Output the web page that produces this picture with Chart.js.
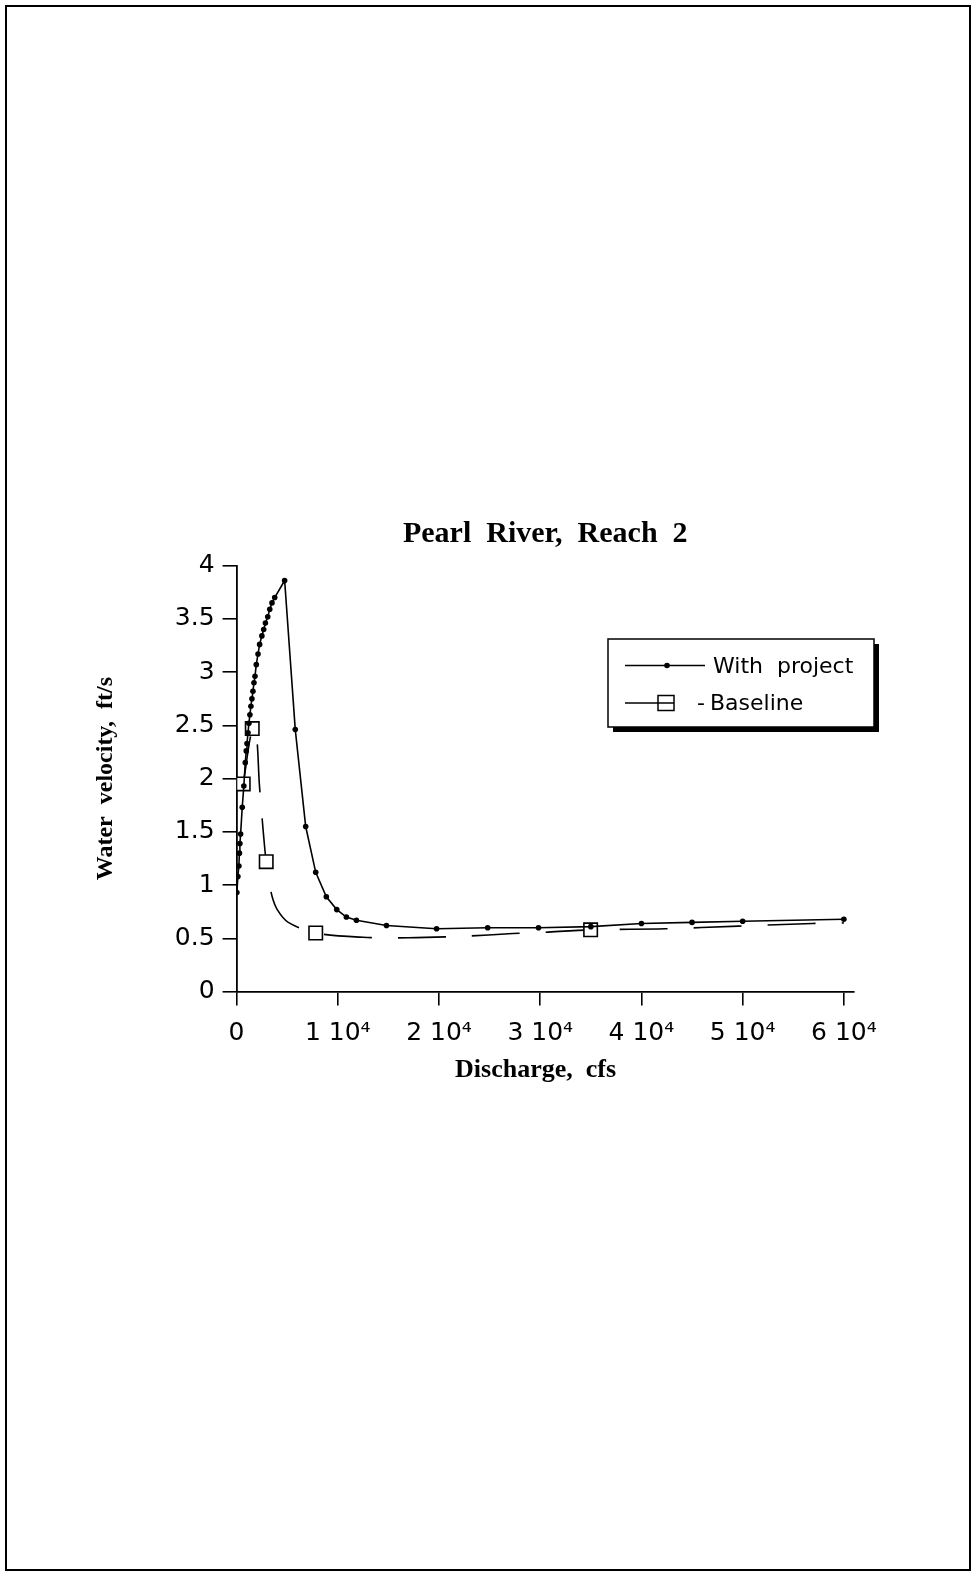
<!DOCTYPE html>
<html>
<head>
<meta charset="utf-8">
<script src="https://cdn.jsdelivr.net/npm/chart.js@4"></script>
<style>
html, body { margin: 0; padding: 0; background: #fff; overflow: hidden; }
#frame { position: absolute; left: 5px; top: 5px; width: 966px; height: 1566px; border: 2px solid #000; box-sizing: border-box; }
#c { position: absolute; left: 0; top: 0; }
</style>
</head>
<body>
<div id="frame"></div>
<canvas id="c" width="975" height="1574"></canvas>
<script>
// discharge (cfs) and water velocity (ft/s)
var withProjectQ = [30, 130, 230, 280, 330, 400, 560, 720, 860, 960, 1030, 1130, 1220, 1320, 1420, 1520, 1620, 1720, 1820, 1950, 2120, 2280, 2500, 2680, 2850, 3080, 3280, 3500, 3770, 4750,
                    5800, 6830, 7820, 8870, 9900, 10850, 11840, 14810, 19760, 24810, 29830, 35000, 40000, 45000, 50000, 60000];
var withProjectV = [0.93, 1.08, 1.18, 1.30, 1.39, 1.48, 1.73, 1.93, 2.15, 2.26, 2.33, 2.43, 2.52, 2.60, 2.68, 2.75, 2.82, 2.90, 2.96, 3.07, 3.17, 3.26, 3.34, 3.40, 3.46, 3.52, 3.59, 3.65, 3.70, 3.86,
                    2.46, 1.55, 1.12, 0.89, 0.77, 0.70, 0.67, 0.62, 0.59, 0.60, 0.60, 0.61, 0.64, 0.65, 0.66, 0.68];

// baseline curve as traced, and the discharges that carry a square marker
var baselineQ = [660, 1550, 1950, 2250, 2550, 2800, 2930, 3130, 3520, 4020, 5110, 7820, 12500, 17000, 22500, 27300, 30000, 34980, 42300, 49600, 56900, 60000];
var baselineV = [1.95, 2.47, 2.42, 1.95, 1.60, 1.33, 1.22, 1.08, 0.89, 0.77, 0.65, 0.55, 0.51, 0.505, 0.52, 0.545, 0.555, 0.58, 0.59, 0.615, 0.64, 0.645];
var baselineMarkQ = [660, 1550, 2930, 7820, 34980];

var xTicks = [0, 10000, 20000, 30000, 40000, 50000, 60000];
var xTickLabels = ['0', '1 10\u2074', '2 10\u2074', '3 10\u2074', '4 10\u2074', '5 10\u2074', '6 10\u2074'];

function pts(xs, ys) {
	var out = [];
	for (var i = 0; i < xs.length; i++) out.push({x: xs[i], y: ys[i]});
	return out;
}

var tickFont = {family: 'DejaVu Sans', size: 25};

var legendBox = {
	id: 'legendBox',
	afterDraw: function(chart) {
		var ctx = chart.ctx;
		ctx.save();
		ctx.fillStyle = '#000';
		ctx.fillRect(613, 644, 266, 88);
		ctx.fillStyle = '#fff';
		ctx.fillRect(608, 639, 266, 88);
		ctx.strokeStyle = '#000';
		ctx.lineWidth = 1.5;
		ctx.strokeRect(608, 639, 266, 88);

		ctx.lineWidth = 1.3;
		ctx.beginPath();
		ctx.moveTo(625, 665.5); ctx.lineTo(705, 665.5);
		ctx.stroke();
		ctx.beginPath();
		ctx.arc(667, 665.5, 2.8, 0, Math.PI * 2);
		ctx.fillStyle = '#000';
		ctx.fill();

		ctx.beginPath();
		ctx.moveTo(625, 703); ctx.lineTo(674, 703);
		ctx.stroke();
		ctx.lineWidth = 1.5;
		ctx.strokeRect(658, 695.5, 16, 15);

		ctx.fillStyle = '#000';
		ctx.font = '22px "DejaVu Sans"';
		ctx.textBaseline = 'alphabetic';
		ctx.fillText('With  project', 713, 673);
		ctx.fillText('-', 697, 710);
		ctx.fillText('Baseline', 710, 710);
		ctx.restore();
	}
};

var ctx = document.getElementById('c');
var chart = new Chart(ctx, {
	type: 'line',
	data: {
		datasets: [
			{
				label: 'With project',
				data: pts(withProjectQ, withProjectV),
				borderColor: '#000',
				backgroundColor: '#000',
				borderWidth: 1.6,
				pointRadius: 2.8,
				pointBorderWidth: 0,
				tension: 0
			},
			{
				label: 'Baseline',
				data: pts(baselineQ, baselineV),
				borderColor: '#000',
				backgroundColor: '#fff',
				borderWidth: 1.6,
				borderDash: [48, 26],
				pointStyle: 'rect',
				pointRadius: function(c) { return baselineMarkQ.indexOf(c.raw.x) >= 0 ? 9.5 : 0; },
				pointBorderWidth: 1.6,
				pointBorderColor: '#000',
				pointBackgroundColor: '#fff',
				tension: 0.3
			}
		]
	},
	options: {
		responsive: false,
		animation: false,
		devicePixelRatio: 1,
		layout: {padding: {left: 0, right: 121, top: 0, bottom: 488}},
		plugins: {
			legend: {display: false},
			tooltip: {enabled: false},
			title: {
				display: true,
				text: 'Pearl  River,  Reach  2',
				color: '#000',
				fullSize: false,
				font: {family: 'Liberation Serif', size: 30, weight: 'bold'},
				padding: {top: 516, bottom: 13.6}
			}
		},
		scales: {
			x: {
				type: 'linear',
				min: 0,
				max: 61000,
				afterBuildTicks: function(axis) {
					axis.ticks = xTicks.map(function(v) { return {value: v}; });
				},
				ticks: {
					color: '#000',
					font: tickFont,
					padding: 13,
					maxRotation: 0,
					autoSkip: false,
					callback: function(v) { return xTickLabels[xTicks.indexOf(v)]; }
				},
				grid: {drawOnChartArea: false, tickLength: 14, color: '#000', lineWidth: 1.6},
				border: {color: '#000', width: 1.8},
				title: {
					display: true,
					text: 'Discharge,  cfs\u00a0\u00a0\u00a0',
					color: '#000',
					font: {family: 'Liberation Serif', size: 26, weight: 'bold'},
					padding: {top: -6.8, bottom: 0}
				}
			},
			y: {
				min: 0,
				max: 4,
				ticks: {
					stepSize: 0.5,
					color: '#000',
					font: tickFont,
					padding: 8,
					callback: function(v) { return String(v); }
				},
				grid: {drawOnChartArea: false, tickLength: 14, color: '#000', lineWidth: 1.6},
				border: {color: '#000', width: 1.8},
				title: {
					display: true,
					text: 'Water  velocity,  ft/s',
					color: '#000',
					font: {family: 'Liberation Serif', size: 24, weight: 'bold'},
					padding: {top: 91, bottom: 47}
				}
			}
		}
	},
	plugins: [legendBox]
});
</script>
</body>
</html>
